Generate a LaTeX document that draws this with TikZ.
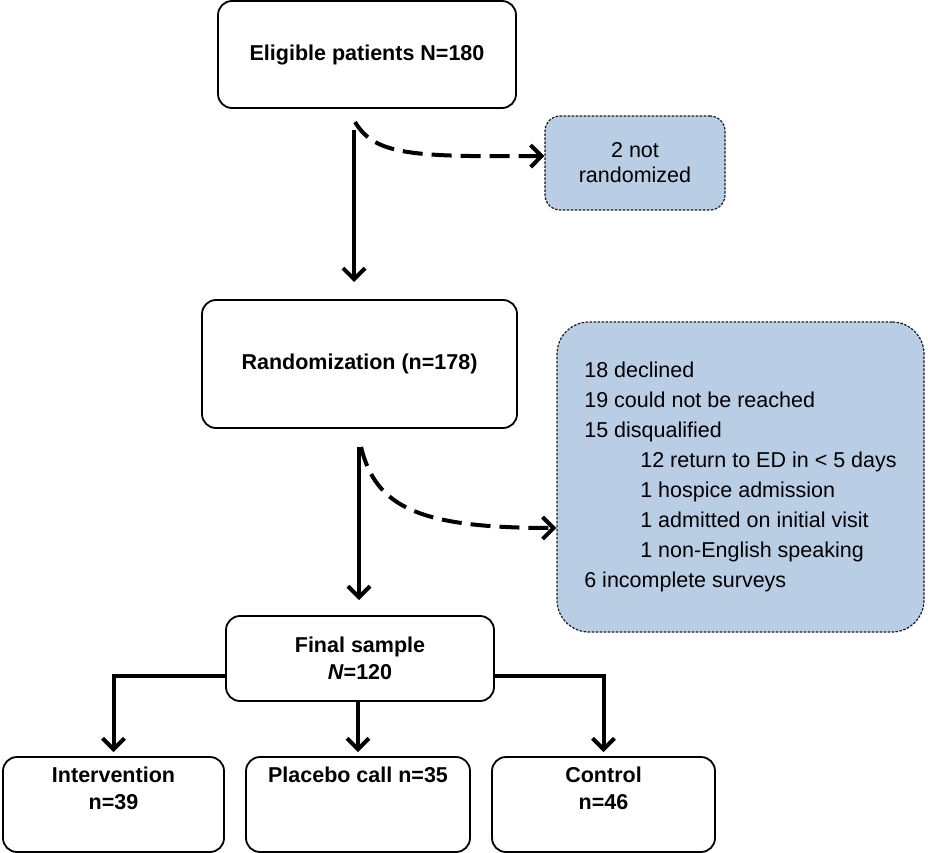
\documentclass[tikz,border=0pt]{standalone}
\usepackage{fontspec}
\setmainfont{Liberation Sans}
\usetikzlibrary{arrows.meta,calc}
\definecolor{boxblue}{RGB}{185,205,229}
\begin{document}
\begin{tikzpicture}[x=1pt,y=-1pt,
  box/.style={draw=black, line width=1.8pt, rounded corners=14pt, fill=white,
    font=\fontsize{21.5}{26.5}\selectfont\bfseries, align=center, inner sep=0pt},
  boxtext/.style={font=\fontsize{21.5}{27}\selectfont\bfseries, align=center, inner sep=0pt, anchor=north},
  bluebox/.style={draw=black!90, line width=1.2pt, dash pattern=on 2.5pt off 1.5pt,
    fill=boxblue, font=\fontsize{21.5}{25}\selectfont, align=center, inner sep=0pt},
  conn/.style={line width=4pt, line join=miter, -{Straight Barb[length=11pt,width=22pt]}},
  dconn/.style={conn, dash pattern=on 20pt off 9pt}
]
\useasboundingbox (0,0) rectangle (928,853);

% main boxes
\node[box, minimum width=298pt, minimum height=107pt] (elig) at (367,54.5) {Eligible patients N=180};
\node[box, minimum width=315pt, minimum height=128pt] (rand) at (359.5,364) {Randomization (n=178)};
\node[box, minimum width=268pt, minimum height=85pt] (final) at (360,658.5) {Final sample\\\textit{N}=120};

\node[box, minimum width=221pt, minimum height=95pt] (interv) at (113.5,804.5) {};
\node[box, minimum width=224pt, minimum height=95pt] (placebo) at (358,804.5) {};
\node[box, minimum width=223pt, minimum height=95pt] (control) at (603.5,804.5) {};
\node[boxtext, yshift=-10.5pt] (intervtext) at (interv.north) {Intervention\\n=39};
\node[boxtext, yshift=-10.5pt] (placebotext) at (placebo.north) {Placebo call n=35};
\node[boxtext, yshift=-10.5pt] (controltext) at (control.north) {Control\\n=46};

% exclusion boxes
\node[bluebox, rounded corners=15pt, minimum width=180pt, minimum height=94pt] (notrand) at (635,163) {2 not\\randomized};
\node[bluebox, rounded corners=32pt, minimum width=367pt, minimum height=310pt,
      align=left, font=\fontsize{21.5}{30}\selectfont] (excl) at (740.5,477) {%
18 declined\\
19 could not be reached\\
15 disqualified\\
\hspace*{56pt}12 return to ED in < 5 days\\
\hspace*{56pt}1 hospice admission\\
\hspace*{56pt}1 admitted on initial visit\\
\hspace*{56pt}1 non-English speaking\\
6 incomplete surveys};

% connector end points
\coordinate (a1s) at (354,130);
\coordinate (a1e) at (354,282);
\coordinate (d1s) at (355,122);
\coordinate (d1e) at ([yshift=7pt]notrand.west);
\coordinate (a2s) at (359,447);
\coordinate (a2e) at (359,600);
\coordinate (d2s) at (361,447);
\coordinate (d2e) at ([yshift=-51pt]excl.west);

% connectors
\draw[conn] (a1s) -- (a1e);
\draw[dconn] (d1s) .. controls (375,155) and (410,157) .. (d1e);
\draw[conn] (a2s) -- (a2e);
\draw[dconn] (d2s) .. controls (376,508) and (420,528) .. (d2e);

\draw[conn] ([yshift=-17.5pt]final.west) -| ([yshift=4pt]interv.north);
\draw[conn] ([yshift=-17.5pt]final.east) -| ([yshift=4pt]control.north);
\draw[conn] (placebo.north |- final.south) -- ([yshift=4pt]placebo.north);
\end{tikzpicture}
\end{document}
